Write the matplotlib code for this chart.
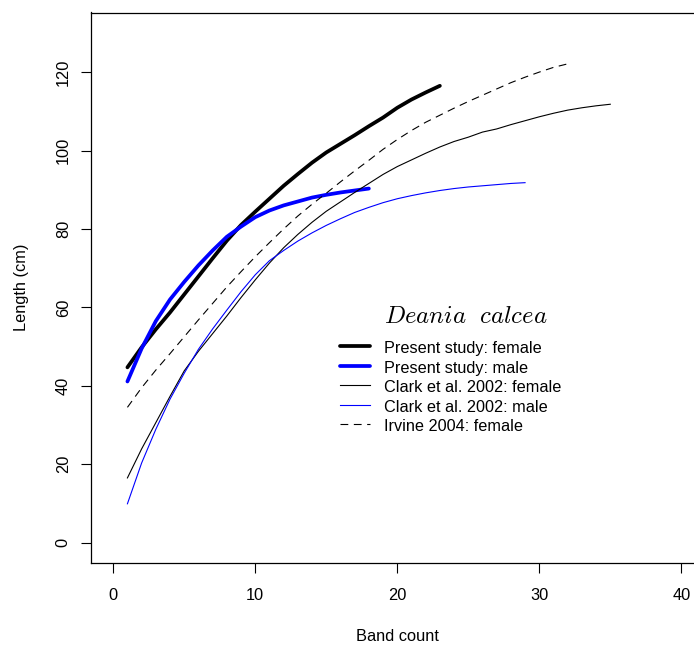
import matplotlib
matplotlib.use("Agg")
import matplotlib.pyplot as plt

plt.rcParams['font.family'] = ['Liberation Sans', 'DejaVu Sans']
plt.rcParams['mathtext.fontset'] = 'cm'

# --- DATA ---
present_f_age = list(range(1, 24))
present_f_len = [44.7, 49.8, 54.4, 58.7, 63.3, 67.9, 72.5, 77.0, 81.0, 84.4,
                 87.7, 91.0, 94.0, 96.9, 99.5, 101.7, 103.9, 106.2, 108.4,
                 110.9, 113.0, 114.8, 116.5]

present_m_age = list(range(1, 19))
present_m_len = [41.1, 49.5, 56.5, 62.0, 66.5, 70.7, 74.5, 78.0, 80.6, 83.0,
                 84.7, 86.0, 87.0, 88.0, 88.7, 89.3, 89.8, 90.3]

clark_f_age = list(range(1, 36))
clark_f_len = [16.5, 23.9, 30.6, 37.3, 43.8, 48.8, 53.3, 57.8, 62.5, 67.0,
               71.3, 75.2, 78.6, 81.7, 84.5, 86.9, 89.3, 91.6, 93.9, 95.9,
               97.6, 99.3, 100.9, 102.3, 103.4, 104.7, 105.5, 106.6, 107.6,
               108.6, 109.5, 110.3, 110.9, 111.4, 111.8]

clark_m_age = list(range(1, 30))
clark_m_len = [9.9, 20.3, 28.9, 36.6, 43.2, 49.3, 54.5, 59.3, 64.0, 68.3,
               71.9, 74.5, 76.9, 79.0, 80.9, 82.6, 84.2, 85.5, 86.7, 87.7,
               88.5, 89.2, 89.8, 90.3, 90.7, 91.0, 91.3, 91.6, 91.8]

irvine_f_age = list(range(1, 33))
irvine_f_len = [34.5, 39.5, 44.0, 48.2, 52.5, 56.8, 61.0, 65.2, 69.1, 72.9,
                76.5, 80.0, 83.3, 86.3, 89.1, 92.0, 94.8, 97.5, 100.3, 102.8,
                105.1, 107.2, 109.0, 110.8, 112.5, 114.1, 115.7, 117.3, 118.7,
                120.0, 121.2, 122.1]

legend_labels = ["Present study: female", "Present study: male",
                 "Clark et al. 2002: female", "Clark et al. 2002: male",
                 "Irvine 2004: female"]

# --- FIGURE ---
W, H = 694, 647
fig = plt.figure(figsize=(W / 100, H / 100), dpi=100)
ax = fig.add_axes([90.5 / W, 84 / H, (704 - 90.5) / W, 550.5 / H])

ax.plot(present_f_age, present_f_len, color='black', lw=2.7,
        solid_capstyle='round', label=legend_labels[0])
ax.plot(present_m_age, present_m_len, color='#0000FF', lw=2.7,
        solid_capstyle='round', label=legend_labels[1])
ax.plot(clark_f_age, clark_f_len, color='black', lw=0.8, label=legend_labels[2])
ax.plot(clark_m_age, clark_m_len, color='#0000FF', lw=0.8, label=legend_labels[3])
ax.plot(irvine_f_age, irvine_f_len, color='black', lw=0.8,
        dashes=(7, 5), label=legend_labels[4])

ax.set_xlim(-1.6, 41.6)
ax.set_ylim(-5.2, 135.2)
ax.set_xticks([0, 10, 20, 30, 40])
ax.set_yticks([0, 20, 40, 60, 80, 100, 120])

for s in ax.spines.values():
    s.set_linewidth(0.9)

ax.tick_params(axis='both', direction='out', length=7.2, width=0.8,
               labelsize=11.8)
ax.tick_params(axis='x', pad=11)
ax.tick_params(axis='y', pad=7)
plt.setp(ax.get_yticklabels(), rotation=90, va='center')

ax.set_xlabel("Band count", fontsize=11.8)
ax.xaxis.set_label_coords(0.5, -0.119)
ax.set_ylabel("Length (cm)", fontsize=11.8)
ax.yaxis.set_label_coords(-0.1, 0.5)

# species title above the legend
fig.text(384 / W, 1 - 323 / H, r"$Deania\ \ calcea$", fontsize=17.8,
         ha='left', va='baseline')

leg = ax.legend(loc='upper left', bbox_to_anchor=(340 / W, 1 - 339.5 / H),
                bbox_transform=fig.transFigure, frameon=False,
                fontsize=11.7, borderpad=0, borderaxespad=0,
                handlelength=1.85, handleheight=1.2, handletextpad=0.86,
                labelspacing=0.16)

fig.savefig("out.png", dpi=100)
